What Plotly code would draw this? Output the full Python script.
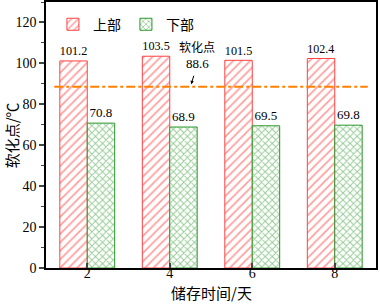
import plotly.graph_objects as go

days = [2, 4, 6, 8]
upper = [101.2, 103.5, 101.5, 102.4]
lower = [70.8, 68.9, 69.5, 69.8]
softening_point = 88.6
y_ticks = [0, 20, 40, 60, 80, 100, 120]

SERIF = "Liberation Serif"
CJK = "Noto Sans CJK SC"
RED = "#FF4040"
GREEN = "#2A962A"

fig = go.Figure()
fig.add_trace(go.Bar(
    x=days, y=upper, name="上部",
    marker=dict(color="white", line=dict(color=RED, width=1),
                pattern=dict(shape="/", fgcolor=RED, bgcolor="white", size=6, solidity=0.3, fillmode="overlay")),
    text=[f"{v:.1f}" for v in upper], textposition="outside",
    textfont=dict(family=SERIF, size=13, color="black"), cliponaxis=False,
))
fig.add_trace(go.Bar(
    x=days, y=lower, name="下部",
    marker=dict(color="white", line=dict(color=GREEN, width=1),
                pattern=dict(shape="x", fgcolor=GREEN, bgcolor="white", size=5, solidity=0.35, fillmode="overlay")),
    text=[f"{v:.1f}" for v in lower], textposition="outside",
    textfont=dict(family=SERIF, size=13, color="black"), cliponaxis=False,
))

fig.add_shape(type="line", xref="paper", yref="y", x0=0.025, x1=0.975,
              y0=softening_point, y1=softening_point,
              line=dict(color="#FF8000", width=2, dash="dashdot"))

fig.add_annotation(x=4.67, y=108.3, xref="x", yref="y", text="软化点",
                   showarrow=False, font=dict(family=CJK, size=12, color="black"))
fig.add_annotation(x=4.67, y=100.0, xref="x", yref="y", text=f"{softening_point}",
                   showarrow=False, font=dict(family=SERIF, size=13, color="black"))
fig.add_annotation(x=4.52, y=89.8, xref="x", yref="y", text="", showarrow=True,
                   ax=3, ay=-10, arrowhead=2, arrowsize=0.7, arrowwidth=1, arrowcolor="black")

# axis titles
fig.add_annotation(x=-0.105, y=0.5, xref="paper", yref="paper", text="软化点/℃", textangle=-90,
                   showarrow=False, xanchor="center", yanchor="middle",
                   font=dict(family=CJK, size=15, color="black"))
fig.add_annotation(x=0.5, y=-0.092, xref="paper", yref="paper", text="储存时间/天",
                   showarrow=False, xanchor="center", yanchor="middle",
                   font=dict(family=CJK, size=15, color="black"))

fig.update_layout(
    width=380, height=304,
    margin=dict(l=46, r=4, t=2, b=36, autoexpand=False),
    paper_bgcolor="white", plot_bgcolor="white",
    barmode="group", bargap=0.335, bargroupgap=0,
    font=dict(family=SERIF, size=13, color="black"),
    showlegend=True,
    legend=dict(orientation="h", x=0.021, y=0.975, xanchor="left", yanchor="top",
                font=dict(family=CJK, size=14), bgcolor="rgba(0,0,0,0)",
                itemwidth=30, tracegroupgap=0),
)
fig.update_xaxes(range=[1, 9], tickvals=days, ticks="inside", ticklen=5, tickwidth=1.5,
                 showline=True, linecolor="black", linewidth=1.5, mirror=True,
                 showgrid=False, zeroline=False, automargin=False,
                 ticklabelstandoff=-9,
                 tickfont=dict(family=SERIF, size=14))
fig.update_yaxes(range=[0, 130], tickvals=y_ticks, ticks="outside", ticklen=5, tickwidth=1.5,
                 minor=dict(dtick=10, ticks="outside", ticklen=3, tickwidth=1, showgrid=False),
                 showline=True, linecolor="black", linewidth=1.5, mirror=True,
                 showgrid=False, zeroline=False, automargin=False,
                 tickfont=dict(family=SERIF, size=14))

fig.write_html("out.html", config={"displayModeBar": False},
               post_script="document.body.style.margin='0';document.body.style.padding='0';document.body.style.overflow='hidden';")
